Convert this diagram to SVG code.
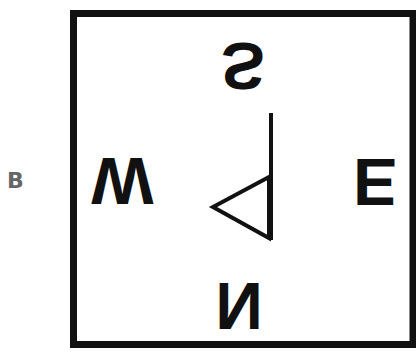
<svg xmlns="http://www.w3.org/2000/svg" width="416" height="352" viewBox="0 0 416 352">
<style>
.lbl{font-family:"Liberation Sans",Arial,sans-serif;font-weight:bold;font-size:66px;fill:#111;text-anchor:middle}
.b{font-family:"DejaVu Sans","Liberation Sans",sans-serif;font-weight:bold;font-size:22px;fill:#666;text-anchor:middle}
.ln{fill:none;stroke:#111;stroke-width:4;stroke-linejoin:miter}
</style>
<rect width="416" height="352" fill="#fff"/>
<g id="label-B"><text class="b" x="15.5" y="188">B</text></g>
<g id="frame"><rect x="73.5" y="13.5" width="339.5" height="331" fill="none" stroke="#111" stroke-width="7"/></g>
<g id="label-S"><text class="lbl" transform="translate(243,43) scale(1,-1)">S</text></g>
<g id="label-W"><text class="lbl" transform="translate(122.5,158) scale(1,-1)">W</text></g>
<g id="label-E"><text class="lbl" transform="translate(375,159) scale(1,-1)">E</text></g>
<g id="label-N"><text class="lbl" transform="translate(239,283) scale(1,-1)">N</text></g>
<g id="connectors">
<line class="ln" x1="271" y1="113" x2="271" y2="240"/>
<polygon class="ln" points="269,177 213,207 269,238"/>
</g>
</svg>
